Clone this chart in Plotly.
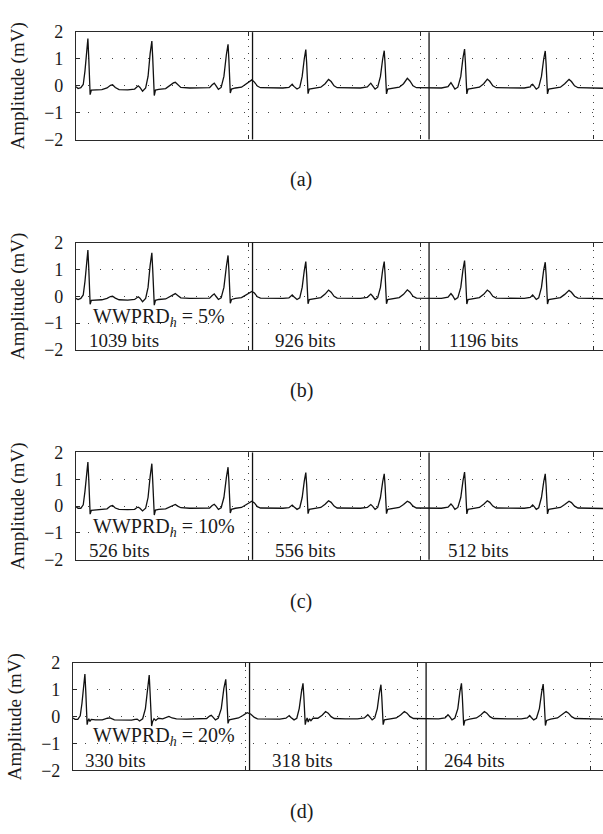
import plotly.graph_objects as go

# ---------------- data (samples, mV) ----------------
x_a = [0, 12, 28, 42, 52, 62, 69, 74, 78, 82, 89, 110, 150, 180, 200, 212, 228, 250, 300, 340, 352, 361, 371, 386, 404, 418, 430, 440, 445, 449, 454, 461, 480, 520, 545, 565, 576, 590, 608, 660, 720, 775, 790, 802, 812, 826, 842, 858, 872, 882, 887, 891, 895, 902, 925, 960, 985, 1005, 1020, 1035, 1052, 1070, 1130, 1200, 1235, 1246, 1254, 1264, 1282, 1298, 1312, 1324, 1333, 1338, 1342, 1346, 1353, 1380, 1420, 1445, 1465, 1480, 1497, 1515, 1580, 1650, 1690, 1700, 1710, 1720, 1735, 1750, 1766, 1779, 1788, 1793, 1797, 1801, 1808, 1835, 1875, 1900, 1922, 1937, 1955, 1975, 2050, 2120, 2158, 2167, 2175, 2185, 2198, 2215, 2232, 2245, 2254, 2259, 2263, 2267, 2274, 2300, 2340, 2365, 2386, 2400, 2418, 2438, 2520, 2600, 2635, 2642, 2649, 2658, 2670, 2684, 2700, 2713, 2722, 2727, 2731, 2735, 2742, 2770, 2810, 2835, 2860, 2874, 2892, 2912, 2980, 3060]
y_a = [-0.03, -0.10, -0.07, 0.05, 0.55, 1.45, 1.76, 1.05, 0.15, -0.33, -0.16, -0.15, -0.14, -0.08, 0.02, 0.04, -0.06, -0.14, -0.15, -0.12, -0.03, 0.00, -0.06, -0.20, -0.08, 0.35, 1.20, 1.67, 1.05, 0.10, -0.36, -0.16, -0.13, -0.10, 0.02, 0.11, 0.13, 0.04, -0.06, -0.08, -0.08, -0.07, 0.04, 0.10, 0.01, -0.13, -0.06, 0.35, 1.15, 1.55, 0.95, 0.05, -0.27, -0.12, -0.08, -0.05, 0.06, 0.18, 0.22, 0.14, -0.01, -0.07, -0.08, -0.08, -0.06, 0.03, 0.06, -0.02, -0.12, -0.06, 0.35, 1.00, 1.35, 0.85, 0.00, -0.29, -0.12, -0.09, -0.05, 0.08, 0.24, 0.16, 0.00, -0.07, -0.08, -0.08, -0.04, 0.05, 0.10, 0.01, -0.12, -0.05, 0.35, 1.00, 1.31, 0.80, 0.00, -0.30, -0.12, -0.09, -0.05, 0.08, 0.28, 0.18, 0.00, -0.07, -0.08, -0.08, -0.03, 0.07, 0.12, 0.02, -0.12, -0.05, 0.35, 1.05, 1.37, 0.85, 0.00, -0.30, -0.12, -0.09, -0.05, 0.08, 0.25, 0.17, 0.00, -0.07, -0.08, -0.08, -0.04, 0.04, 0.06, -0.02, -0.12, -0.06, 0.35, 1.00, 1.30, 0.80, 0.00, -0.30, -0.12, -0.09, -0.05, 0.08, 0.24, 0.16, 0.00, -0.07, -0.08, -0.09]

x_b = x_a
y_b = [-0.08, -0.12, -0.08, 0.05, 0.55, 1.40, 1.72, 1.05, 0.15, -0.30, -0.15, -0.15, -0.13, -0.08, -0.01, 0.00, -0.07, -0.13, -0.14, -0.12, -0.04, -0.02, -0.07, -0.20, -0.08, 0.33, 1.15, 1.62, 1.00, 0.10, -0.33, -0.15, -0.12, -0.10, 0.00, 0.08, 0.10, 0.03, -0.06, -0.08, -0.08, -0.07, 0.03, 0.09, 0.00, -0.12, -0.06, 0.33, 1.10, 1.52, 0.95, 0.05, -0.26, -0.12, -0.08, -0.05, 0.05, 0.15, 0.18, 0.12, -0.02, -0.07, -0.08, -0.08, -0.06, 0.02, 0.05, -0.02, -0.12, -0.06, 0.33, 0.95, 1.29, 0.80, 0.00, -0.28, -0.12, -0.09, -0.05, 0.08, 0.23, 0.15, 0.00, -0.07, -0.08, -0.08, -0.04, 0.04, 0.08, 0.01, -0.12, -0.05, 0.33, 0.98, 1.29, 0.80, 0.00, -0.28, -0.12, -0.09, -0.05, 0.07, 0.24, 0.16, 0.00, -0.07, -0.08, -0.08, -0.03, 0.06, 0.10, 0.02, -0.12, -0.05, 0.33, 1.00, 1.33, 0.85, 0.00, -0.29, -0.12, -0.09, -0.05, 0.07, 0.23, 0.16, 0.00, -0.07, -0.08, -0.08, -0.04, 0.03, 0.05, -0.02, -0.12, -0.06, 0.33, 0.98, 1.27, 0.80, 0.00, -0.29, -0.12, -0.09, -0.05, 0.07, 0.22, 0.15, 0.00, -0.07, -0.08, -0.09]

x_c = x_a
y_c = [-0.02, -0.08, -0.08, 0.05, 0.55, 1.35, 1.64, 1.00, 0.15, -0.30, -0.16, -0.15, -0.13, -0.10, 0.00, 0.02, -0.07, -0.12, -0.13, -0.12, -0.06, -0.04, -0.08, -0.18, -0.08, 0.32, 1.10, 1.58, 0.95, 0.10, -0.33, -0.15, -0.12, -0.10, -0.02, 0.04, 0.06, 0.00, -0.06, -0.08, -0.08, -0.07, 0.02, 0.07, 0.00, -0.12, -0.06, 0.32, 1.05, 1.45, 0.90, 0.05, -0.26, -0.12, -0.08, -0.05, 0.05, 0.15, 0.18, 0.12, -0.02, -0.07, -0.08, -0.08, -0.06, 0.02, 0.04, -0.02, -0.12, -0.06, 0.32, 0.92, 1.25, 0.80, 0.00, -0.28, -0.12, -0.09, -0.05, 0.07, 0.20, 0.14, 0.00, -0.07, -0.08, -0.08, -0.05, 0.02, 0.06, 0.00, -0.12, -0.05, 0.32, 0.90, 1.20, 0.75, 0.00, -0.28, -0.12, -0.09, -0.05, 0.06, 0.18, 0.13, 0.00, -0.07, -0.08, -0.08, -0.04, 0.05, 0.08, 0.01, -0.12, -0.05, 0.32, 0.95, 1.27, 0.80, 0.00, -0.29, -0.12, -0.09, -0.05, 0.07, 0.20, 0.14, 0.00, -0.07, -0.08, -0.08, -0.05, 0.02, 0.04, -0.02, -0.12, -0.06, 0.32, 0.90, 1.20, 0.75, 0.00, -0.29, -0.12, -0.09, -0.05, 0.06, 0.18, 0.13, 0.00, -0.07, -0.08, -0.09]

x_d = [0, 12, 28, 42, 52, 62, 69, 74, 78, 82, 86, 92, 98, 106, 130, 170, 200, 215, 240, 290, 340, 360, 372, 386, 404, 420, 432, 442, 447, 451, 456, 462, 470, 480, 495, 520, 545, 556, 575, 600, 660, 720, 775, 792, 802, 812, 826, 842, 860, 875, 886, 891, 895, 899, 906, 930, 960, 985, 1010, 1030, 1052, 1070, 1130, 1200, 1235, 1246, 1254, 1264, 1282, 1298, 1312, 1325, 1334, 1339, 1343, 1347, 1352, 1358, 1364, 1372, 1380, 1392, 1420, 1445, 1465, 1480, 1497, 1515, 1580, 1650, 1690, 1700, 1710, 1720, 1735, 1750, 1765, 1777, 1786, 1791, 1795, 1799, 1806, 1835, 1875, 1900, 1922, 1937, 1955, 1975, 2050, 2120, 2158, 2167, 2175, 2185, 2198, 2215, 2232, 2244, 2253, 2258, 2262, 2266, 2273, 2300, 2340, 2365, 2386, 2400, 2418, 2438, 2520, 2600, 2635, 2642, 2649, 2658, 2672, 2688, 2705, 2718, 2727, 2732, 2736, 2740, 2747, 2770, 2810, 2835, 2860, 2874, 2892, 2912, 2980, 3074]
y_d = [-0.05, -0.10, -0.10, 0.03, 0.50, 1.30, 1.59, 0.95, 0.10, -0.30, -0.18, -0.08, -0.18, -0.10, -0.12, -0.12, -0.06, -0.05, -0.12, -0.13, -0.13, -0.10, -0.09, -0.16, -0.08, 0.30, 1.10, 1.55, 0.90, 0.05, -0.35, -0.18, -0.08, -0.14, -0.06, -0.08, -0.02, 0.01, -0.05, -0.08, -0.09, -0.09, -0.07, 0.02, 0.05, -0.02, -0.12, -0.06, 0.30, 1.05, 1.39, 0.85, 0.05, -0.25, -0.12, -0.09, -0.05, 0.04, 0.15, 0.10, -0.03, -0.08, -0.09, -0.09, -0.06, 0.01, 0.04, -0.03, -0.12, -0.06, 0.30, 0.92, 1.24, 0.75, 0.00, -0.30, -0.15, -0.05, -0.20, -0.08, -0.15, -0.06, -0.06, 0.05, 0.19, 0.13, 0.00, -0.07, -0.08, -0.08, -0.05, 0.03, 0.07, 0.00, -0.12, -0.05, 0.30, 0.88, 1.19, 0.72, 0.00, -0.30, -0.12, -0.09, -0.05, 0.06, 0.19, 0.13, 0.00, -0.07, -0.08, -0.08, -0.05, 0.04, 0.07, 0.00, -0.12, -0.05, 0.30, 0.92, 1.24, 0.75, 0.00, -0.33, -0.14, -0.09, -0.05, 0.06, 0.19, 0.13, 0.00, -0.07, -0.08, -0.08, -0.05, 0.02, 0.04, -0.03, -0.12, -0.06, 0.30, 0.90, 1.21, 0.72, 0.00, -0.33, -0.14, -0.09, -0.05, 0.06, 0.19, 0.13, 0.00, -0.07, -0.08, -0.09]

panel_letters = ["(a)", "(b)", "(c)", "(d)"]
wwprd_labels = [None, "5%", "10%", "20%"]
bit_counts = [None, [1039, 926, 1196], [526, 556, 512], [330, 318, 264]]
block_edges = [1024, 2048]
grid_x = [1000, 2000, 3000]
y_ticks = [-2, -1, 0, 1, 2]

# ---------------- layout geometry ----------------
W, H = 603, 834
ML = 73
PW = W - ML
FONT = "Liberation Serif"
INK = "#1a1a1a"

panel_tops = [22.7, 238.3, 453.3, 669.0]
panel_h = 110.0
x_left_px = [76, 76, 76, 73]
x_range_max = [3057, 3057, 3057, 3074]
letter_y_px = [174, 390, 606, 821]
wwprd_pos = [None, (85, -0.78), (85, -0.78), (103, -0.73)]
bits_pos = [None, ([66, 1145, 2154], -1.64), ([62, 1145, 2144], -1.64), ([60, 1143, 2143], -1.62)]

xs = [x_a, x_b, x_c, x_d]
ys = [y_a, y_b, y_c, y_d]

fig = go.Figure()
layout = dict(
    width=W, height=H,
    margin=dict(l=ML, r=0, t=0, b=0),
    paper_bgcolor="white", plot_bgcolor="white",
    showlegend=False,
    font=dict(family=FONT, color=INK),
)
shapes = []
annotations = []

for i in range(4):
    n = i + 1
    xa = "x" if n == 1 else f"x{n}"
    ya = "y" if n == 1 else f"y{n}"
    fig.add_trace(go.Scatter(x=xs[i], y=ys[i], mode="lines",
                             line=dict(color="#111111", width=1.3),
                             xaxis=xa, yaxis=ya, hoverinfo="skip"))
    top = panel_tops[i]
    d0 = 1 - (top + panel_h) / H
    d1 = 1 - top / H
    dx0 = (x_left_px[i] - ML) / PW
    layout[f"xaxis{n}"] = dict(
        domain=[dx0, 1], range=[0, x_range_max[i]], anchor=ya,
        showline=True, linecolor="#2a2a2a", linewidth=1.2, mirror="ticks",
        ticks="inside", ticklen=4, tickcolor="#2a2a2a", tickvals=grid_x,
        showticklabels=False, showgrid=True, gridcolor="#444444",
        griddash="1px,6px", gridwidth=1, zeroline=False,
    )
    layout[f"yaxis{n}"] = dict(
        domain=[d0, d1], range=[-2, 2], anchor=xa,
        showline=True, linecolor="#2a2a2a", linewidth=1.2, mirror=False,
        ticks="inside", ticklen=4, tickcolor="#2a2a2a", tickvals=y_ticks,
        tickfont=dict(family=FONT, size=18, color=INK), ticklabelstandoff=8,
        showgrid=True, gridcolor="#444444", griddash="1px,11px", gridwidth=1,
        zeroline=False,
        title=dict(text="Amplitude (mV)", font=dict(family=FONT, size=19, color=INK), standoff=14),
    )
    layout[f"yaxis{n + 4}"] = dict(
        overlaying=ya, side="right", anchor=xa, range=[-2, 2],
        tickvals=[-1, 0, 1], ticks="inside", ticklen=3, tickcolor="#2a2a2a",
        showticklabels=False, showgrid=False, showline=False, zeroline=False,
    )
    for e in block_edges:
        shapes.append(dict(type="line", xref=xa, yref=f"{ya} domain",
                           x0=e, x1=e, y0=0, y1=1,
                           line=dict(color="#111111", width=1.3)))
    annotations.append(dict(
        text=panel_letters[i], xref="paper", yref="paper",
        x=(301 - ML) / PW, y=1 - letter_y_px[i] / H,
        xanchor="center", yanchor="middle", showarrow=False,
        font=dict(family=FONT, size=20, color=INK)))
    if wwprd_labels[i]:
        wx, wy = wwprd_pos[i]
        annotations.append(dict(
            text=f"WWPRD<sub><i>h</i></sub> = {wwprd_labels[i]}",
            xref=xa, yref=ya, x=wx, y=wy, xanchor="left", yanchor="middle",
            showarrow=False, font=dict(family=FONT, size=20, color=INK)))
        bx, by = bits_pos[i]
        for k, b in enumerate(bit_counts[i]):
            annotations.append(dict(
                text=f"{b} bits", xref=xa, yref=ya, x=bx[k], y=by,
                xanchor="left", yanchor="middle", showarrow=False,
                font=dict(family=FONT, size=19, color=INK)))

layout["shapes"] = shapes
layout["annotations"] = annotations
fig.update_layout(**layout)
fig.write_html("out.html")
